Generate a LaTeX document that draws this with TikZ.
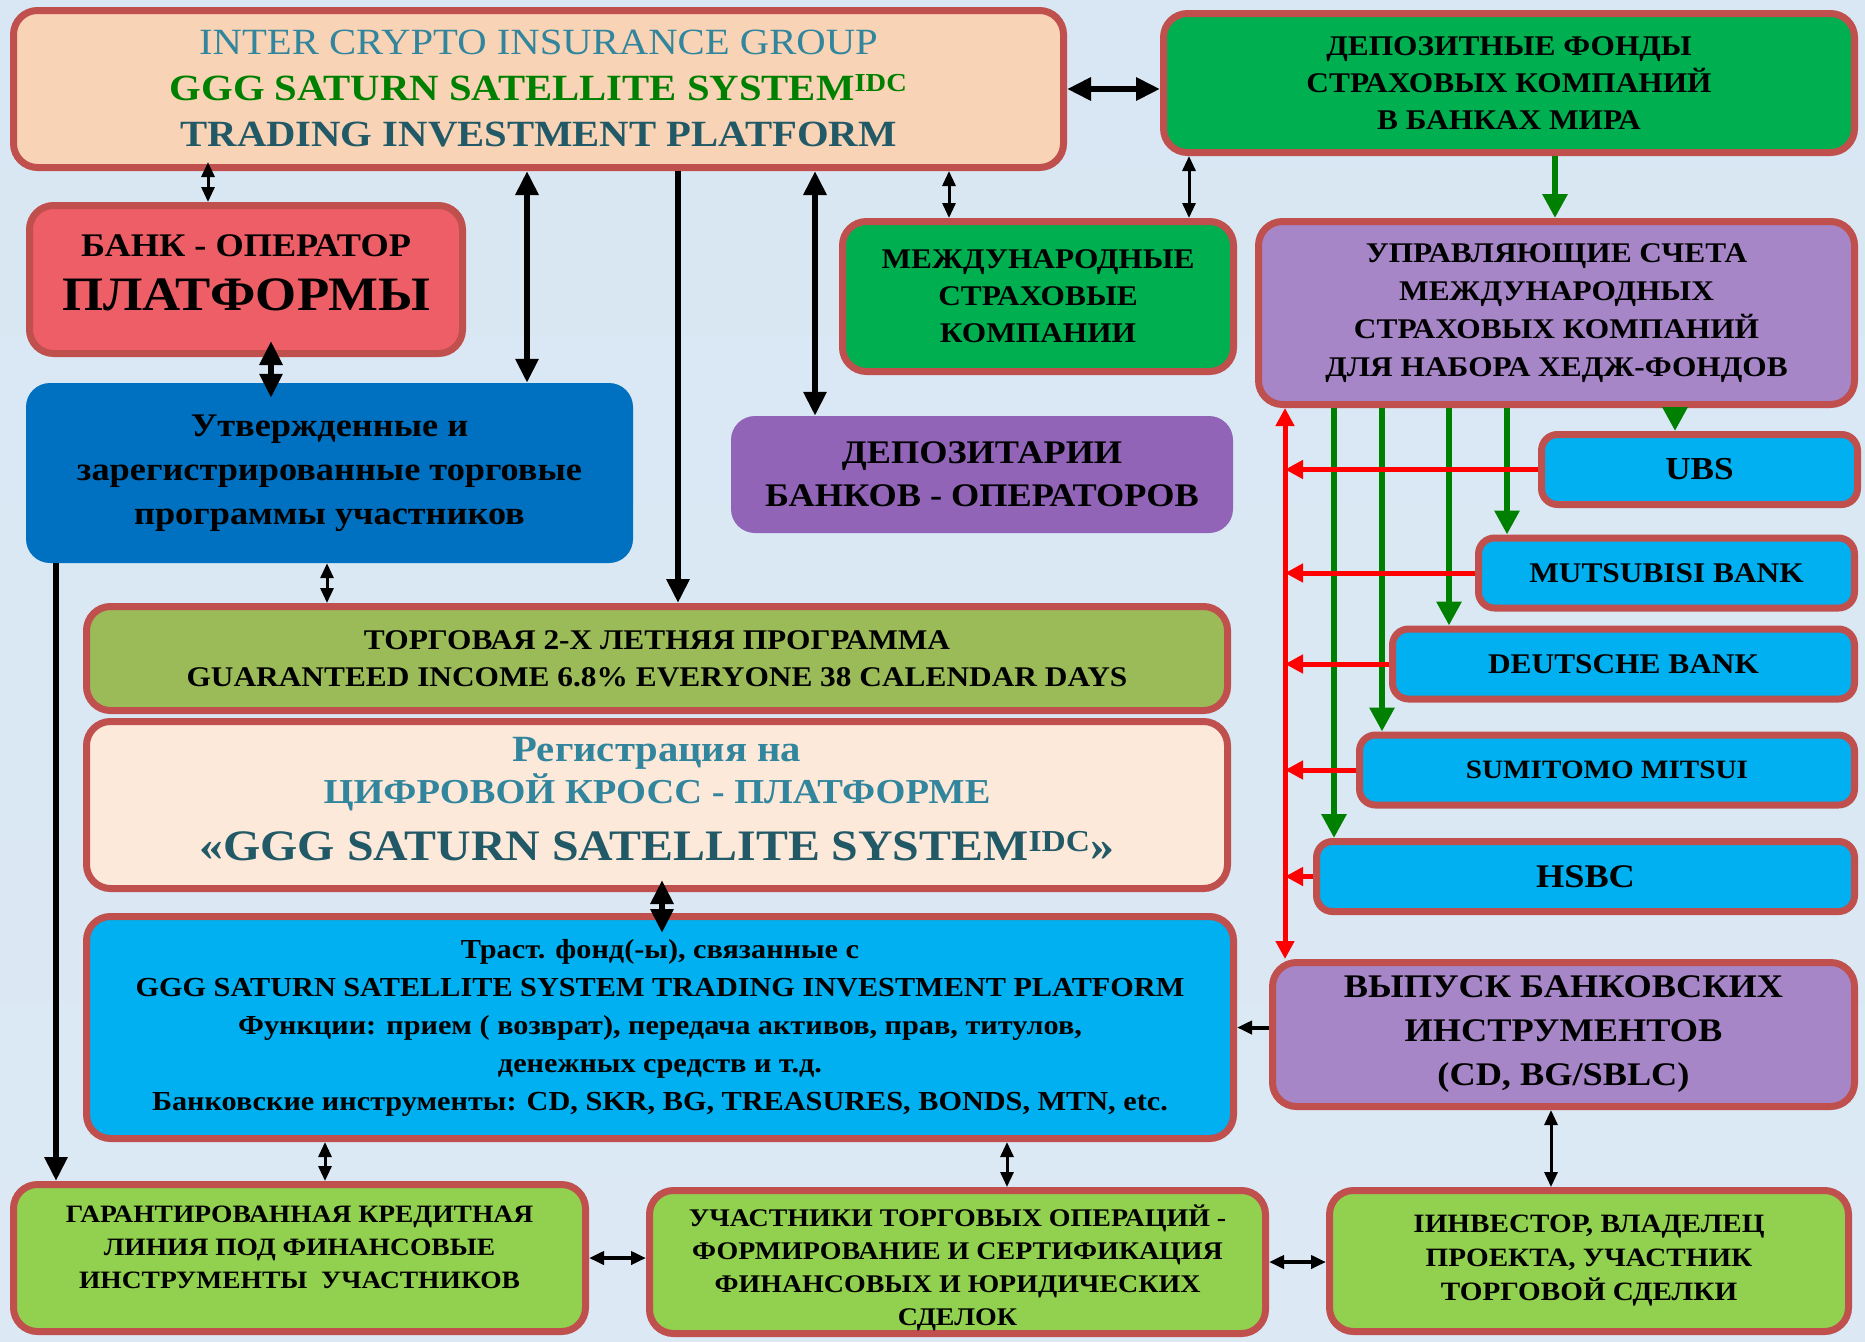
\documentclass[tikz,border=0pt]{standalone}
\usepackage{fontspec}
\setmainfont{Liberation Serif}[FakeStretch=1.1]
\usetikzlibrary{arrows.meta}

\definecolor{frame}{HTML}{C0504D}
\definecolor{peach}{HTML}{F9D3B6}
\definecolor{depgreen}{HTML}{00B050}
\definecolor{bankred}{HTML}{EE5E66}
\definecolor{utvblue}{HTML}{0070C0}
\definecolor{depopurple}{HTML}{9264B8}
\definecolor{lilac}{HTML}{A686C7}
\definecolor{skyblue}{HTML}{00B0F0}
\definecolor{progolive}{HTML}{9BBB59}
\definecolor{cream}{HTML}{FDE9DA}
\definecolor{limegreen}{HTML}{92D050}
\definecolor{tealtxt}{HTML}{31859C}
\definecolor{darkteal}{HTML}{215967}
\definecolor{gggreen}{HTML}{008000}
\definecolor{bgtop}{HTML}{D8E7F3}
\definecolor{bgmid}{HTML}{F3F7FB}
\definecolor{bgbot}{HTML}{DCE9F5}

\newcommand{\setfs}[2]{\fontsize{#1pt}{#2pt}\selectfont}

\tikzset{
    box/.style={draw=frame, line width=7pt, rounded corners=24pt,
        align=center, inner sep=0pt},
    flat/.style={rounded corners=24pt, align=center, inner sep=0pt},
    bankbox/.style={box, fill=skyblue, rounded corners=16pt,
        minimum height=70pt},
    arrthin/.style={line width=3pt, >={Triangle[length=15pt,width=13pt]}},
    arrthick/.style={line width=6pt, >={Triangle[length=24pt,width=22pt]}},
    arrgreen/.style={draw=gggreen, line width=6pt,
        >={Triangle[length=24pt,width=24pt]}},
    arrred/.style={draw=red, line width=5pt,
        >={Triangle[length=18pt,width=18pt]}},
}

\begin{document}
\begin{tikzpicture}[x=1pt, y=-1pt]
    \useasboundingbox (0,0) rectangle (1865,1341);
    \shade[top color=bgtop, middle color=bgmid, bottom color=bgbot]
        (0,0) rectangle (1865,1341);

    % top row
    \node[box, fill=peach, minimum width=1050pt, minimum height=157pt,
        font=\bfseries\setfs{37}{46}] (top) at (538.5,89)
        {{\mdseries\color{tealtxt}INTER CRYPTO INSURANCE GROUP}\\
         {\color{gggreen}GGG SATURN SATELLITE SYSTEM\textsuperscript{IDC}}\\
         {\color{darkteal}TRADING INVESTMENT PLATFORM}};
    \node[box, fill=depgreen, minimum width=691pt, minimum height=139pt,
        font=\bfseries\setfs{28.5}{37}] (dep) at (1509,83)
        {ДЕПОЗИТНЫЕ ФОНДЫ\\СТРАХОВЫХ КОМПАНИЙ\\В БАНКАХ МИРА};

    % second row
    \node[box, fill=bankred, minimum width=433pt, minimum height=148pt,
        font=\bfseries\setfs{33}{54}] (bank) at (246,279.5)
        {БАНК - ОПЕРАТОР\\{\setfs{48}{54}ПЛАТФОРМЫ}\\[-40pt]};
    \node[box, fill=depgreen, minimum width=391pt, minimum height=150pt,
        font=\bfseries\setfs{28.5}{37}] (mezh) at (1038,296.5)
        {МЕЖДУНАРОДНЫЕ\\СТРАХОВЫЕ\\КОМПАНИИ};
    \node[box, fill=lilac, minimum width=596pt, minimum height=183pt,
        font=\bfseries\setfs{28.5}{38}] (upr) at (1556.5,313)
        {УПРАВЛЯЮЩИЕ СЧЕТА\\МЕЖДУНАРОДНЫХ\\СТРАХОВЫХ КОМПАНИЙ\\ДЛЯ НАБОРА ХЕДЖ-ФОНДОВ};
    \node[flat, fill=utvblue, minimum width=607pt, minimum height=180pt,
        font=\bfseries\setfs{33}{44}] (utv) at (329.5,473)
        {Утвержденные и\\зарегистрированные торговые\\программы участников};
    \node[flat, fill=depopurple, minimum width=502pt, minimum height=117pt,
        font=\bfseries\setfs{33}{43}] (depo) at (982,474.5)
        {ДЕПОЗИТАРИИ\\БАНКОВ - ОПЕРАТОРОВ};

    % banks
    \node[bankbox, minimum width=316pt, font=\bfseries\setfs{32}{36}] (ubs)
        at (1699.5,469.5) {UBS};
    \node[bankbox, minimum width=376pt, font=\bfseries\setfs{28.5}{32}] (mutsu)
        at (1666.5,573) {MUTSUBISI BANK};
    \node[bankbox, minimum width=462pt, font=\bfseries\setfs{28.5}{32}] (deut)
        at (1623.5,664) {DEUTSCHE BANK};
    \node[bankbox, minimum width=495pt, font=\bfseries\setfs{26.5}{30}] (sumi)
        at (1607,770) {SUMITOMO MITSUI};
    \node[bankbox, minimum width=538pt, font=\bfseries\setfs{33}{36}] (hsbc)
        at (1585.5,876.5) {HSBC};

    % middle column
    \node[box, fill=progolive, minimum width=1141pt, minimum height=104pt,
        font=\bfseries\setfs{28.5}{37}] (trade) at (657,658.5)
        {ТОРГОВАЯ 2-Х ЛЕТНЯЯ ПРОГРАММА\\
         GUARANTEED INCOME 6.8\% EVERYONE 38 CALENDAR DAYS};
    \node[box, fill=cream, minimum width=1141pt, minimum height=167pt,
        font=\bfseries\setfs{35}{42}] (reg) at (657,805)
        {\\[-30pt]{\color{tealtxt}\setfs{37}{42}Регистрация на}\\
         {\color{tealtxt}ЦИФРОВОЙ КРОСС - ПЛАТФОРМЕ}\\[15pt]
         {\color{darkteal}\setfs{43.5}{50}«GGG SATURN SATELLITE SYSTEM\textsuperscript{IDC}»}};
    \node[box, fill=skyblue, minimum width=1147pt, minimum height=222pt,
        font=\bfseries\setfs{27.5}{38}] (trust) at (660,1027.5)
        {Траст. фонд(-ы), связанные с\\
         GGG SATURN SATELLITE SYSTEM TRADING INVESTMENT PLATFORM\\
         Функции: прием ( возврат), передача активов, прав, титулов,\\
         денежных средств и т.д.\\
         Банковские инструменты: CD, SKR, BG, TREASURES, BONDS, MTN, etc.};
    \node[box, fill=lilac, minimum width=582pt, minimum height=144pt,
        font=\bfseries\setfs{33}{44}] (vyp) at (1563.5,1034.5)
        {ВЫПУСК БАНКОВСКИХ\\ИНСТРУМЕНТОВ\\(CD, BG/SBLC)};

    % bottom row
    \node[box, fill=limegreen, minimum width=572pt, minimum height=147pt,
        font=\bfseries\setfs{25}{33}] (garant) at (299.5,1258)
        {ГАРАНТИРОВАННАЯ КРЕДИТНАЯ\\ЛИНИЯ ПОД ФИНАНСОВЫЕ\\ИНСТРУМЕНТЫ\ \ УЧАСТНИКОВ\\[-12pt]};
    \node[box, fill=limegreen, minimum width=616pt, minimum height=143pt,
        font=\bfseries\setfs{25.4}{33}] (uch) at (957.5,1262)
        {\\[1pt]УЧАСТНИКИ ТОРГОВЫХ ОПЕРАЦИЙ -\\ФОРМИРОВАНИЕ И СЕРТИФИКАЦИЯ\\ФИНАНСОВЫХ И ЮРИДИЧЕСКИХ\\СДЕЛОК};
    \node[box, fill=limegreen, minimum width=519pt, minimum height=141pt,
        font=\bfseries\setfs{26.5}{34}] (inv) at (1589,1261)
        {IИНВЕСТОР, ВЛАДЕЛЕЦ\\ПРОЕКТА, УЧАСТНИК\\ТОРГОВОЙ СДЕЛКИ};

    % black connectors
    \draw[arrthick, <->] (top.east) -- (top.east -| dep.west);
    \draw[arrthin, <->, shorten <=-9pt] (208,0 |- top.south) -- (208,0 |- bank.north);
    \draw[arrthick, <->] (527,0 |- top.south) -- (527,0 |- utv.north);
    \draw[arrthick, ->] (678,0 |- top.south) -- (678,0 |- trade.north);
    \draw[arrthick, <->] (815,0 |- top.south) -- (815,0 |- depo.north);
    \draw[arrthin, <->] (949,0 |- top.south) -- (949,0 |- mezh.north);
    \draw[arrthin, <->] (1189,0 |- dep.south) -- (1189,0 |- mezh.north);
    \draw[arrthick, <->, shorten <=-16pt, shorten >=-15pt]
        (271,0 |- bank.south) -- (271,0 |- utv.north);
    \draw[arrthin, <->] (327,0 |- utv.south) -- (327,0 |- trade.north);
    \draw[arrthick, ->] (56,0 |- utv.south) -- (56,0 |- garant.north);
    \draw[arrthick, <->, shorten <=-12pt, shorten >=-20pt]
        (662,0 |- reg.south) -- (662,0 |- trust.north);
    \draw[arrthin, <->] (325,0 |- trust.south) -- (325,0 |- garant.north);
    \draw[arrthin, <->] (1007,0 |- trust.south) -- (1007,0 |- uch.north);
    \draw[arrthin, line width=4pt, ->] (trust.east -| vyp.west) -- (trust.east);
    \draw[arrthin, <->] (1551,0 |- vyp.south) -- (1551,0 |- inv.north);
    \draw[arrthin, line width=4pt, <->] (garant.east) -- (garant.east -| uch.west);
    \draw[arrthin, line width=4pt, <->] (uch.east) -- (uch.east -| inv.west);

    % green connectors
    \draw[arrgreen, ->] (1555,0 |- dep.south) -- (1555,0 |- upr.north);
    \draw[arrgreen, ->] (1675,0 |- upr.south) -- (1675,0 |- ubs.north);
    \draw[arrgreen, ->] (1507,0 |- upr.south) -- (1507,0 |- mutsu.north);
    \draw[arrgreen, ->] (1449,0 |- upr.south) -- (1449,0 |- deut.north);
    \draw[arrgreen, ->] (1382,0 |- upr.south) -- (1382,0 |- sumi.north);
    \draw[arrgreen, ->] (1334,0 |- upr.south) -- (1334,0 |- hsbc.north);

    % red connectors
    \draw[arrred, <->] (1285,0 |- upr.south) -- (1285,0 |- vyp.north);
    \foreach \bk in {ubs, mutsu, deut, sumi, hsbc}
        \draw[arrred, ->] (\bk.west) -- (1285,0 |- \bk.west);
\end{tikzpicture}
\end{document}
